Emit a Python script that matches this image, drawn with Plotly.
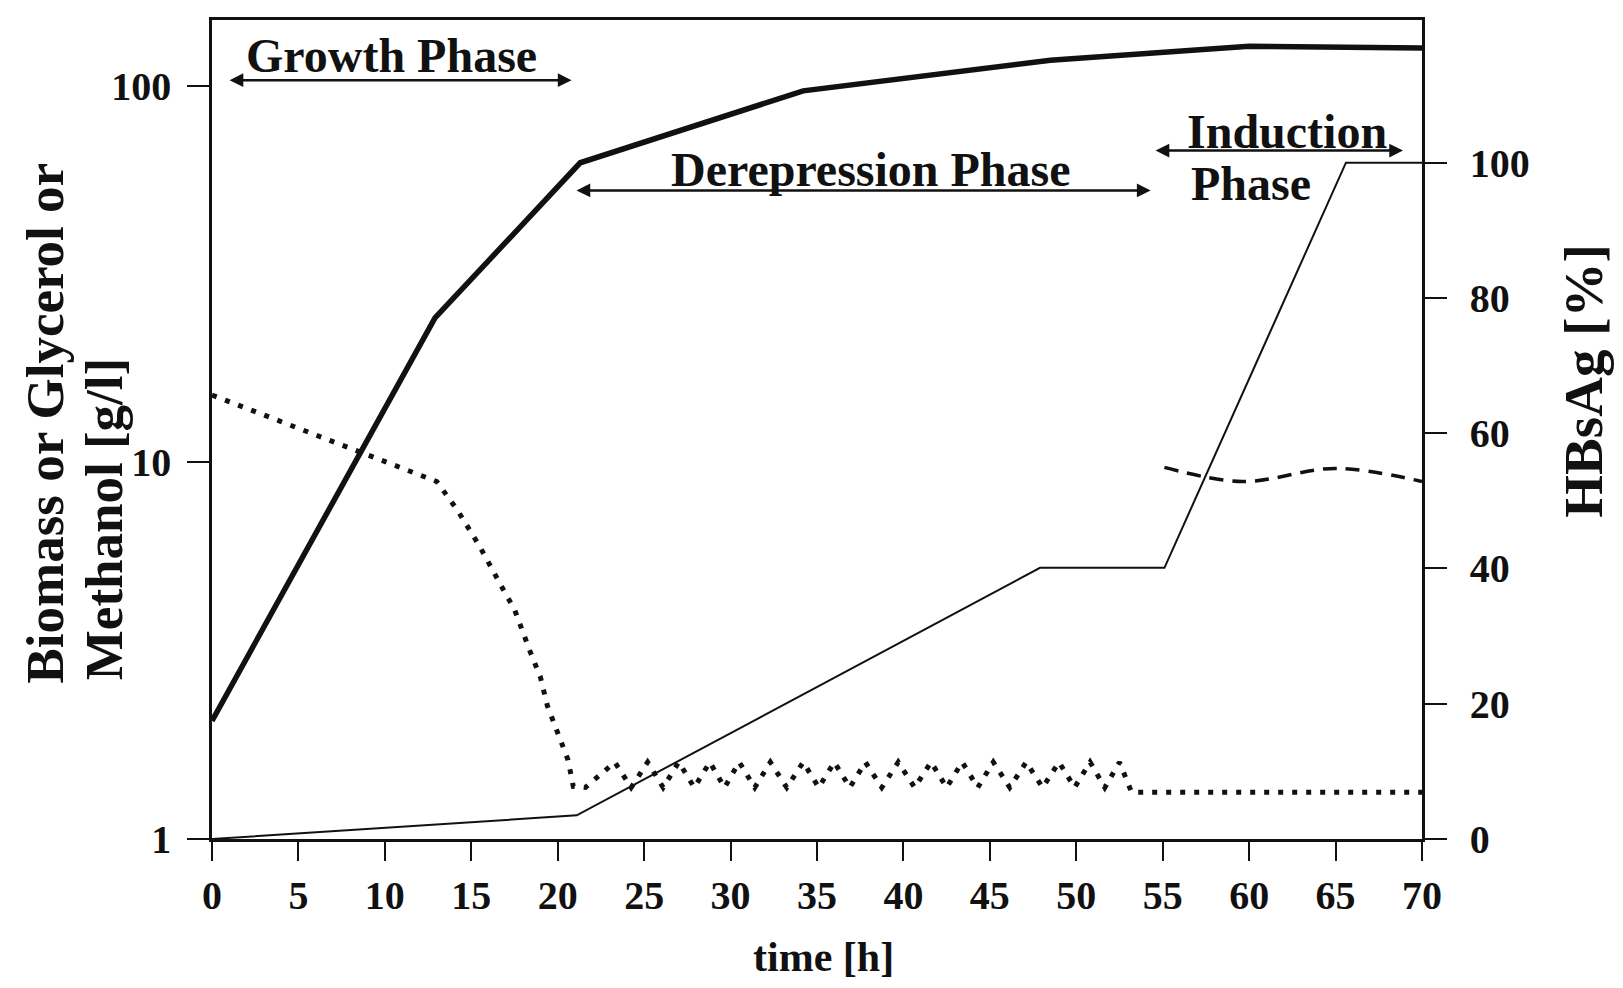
import plotly.graph_objects as go

# ---------------- data ----------------
time_biomass = [0, 12.9, 21.3, 34.2, 48.5, 60, 70]
biomass = [2.06, 24.2, 62.5, 97, 117, 127.5, 126]

time_glycerol = [0, 13.0, 14.2, 15.5, 16.7, 17.5, 18.4, 19.0, 19.4, 20.0, 20.6,
                 20.9, 21.6, 23.3, 24.25, 25.2, 26.1, 27.0, 27.9, 28.8, 29.65,
                 30.5, 31.4, 32.3, 33.25, 34.2, 35.1, 36.0, 36.9, 37.8, 38.75,
                 39.7, 40.65, 41.6, 42.5, 43.4, 44.3, 45.2, 46.15, 47.1, 48.05,
                 49.0, 49.9, 50.8, 51.65, 52.5, 53.2, 70]
glycerol = [15.1, 8.9, 7.47, 5.97, 4.73, 4.07, 3.15, 2.69, 2.26, 1.93, 1.62,
            1.38, 1.37, 1.6, 1.37, 1.6, 1.37, 1.6, 1.37, 1.6, 1.37,
            1.6, 1.37, 1.6, 1.37, 1.6, 1.37, 1.6, 1.37, 1.6, 1.37,
            1.6, 1.37, 1.6, 1.37, 1.6, 1.37, 1.6, 1.37, 1.6, 1.37,
            1.6, 1.37, 1.6, 1.37, 1.6, 1.33, 1.33]

time_methanol = [55.1, 59.6, 65.0, 70]
methanol = [9.7, 8.9, 9.64, 8.9]

time_hbsag = [0, 21.1, 47.9, 55.1, 65.6, 70]
hbsag = [0, 3.5, 40.1, 40.1, 100, 100]

x_ticks = [0, 5, 10, 15, 20, 25, 30, 35, 40, 45, 50, 55, 60, 65, 70]
left_ticks = [1, 10, 100]
right_ticks = [0, 20, 40, 60, 80, 100]

phase_names = ["Growth Phase", "Derepression Phase", "Induction", "Phase"]
phase_spans = [(0.93, 20.8), (21.0, 54.3), (54.5, 68.9)]

# ---------------- figure ----------------
SERIF = "Liberation Serif"
INK = "#111111"

fig = go.Figure()

fig.add_trace(go.Scatter(x=time_biomass, y=biomass, mode="lines",
                         line=dict(color=INK, width=5.5), yaxis="y",
                         showlegend=False))
fig.add_trace(go.Scatter(x=time_glycerol, y=glycerol, mode="lines",
                         line=dict(color=INK, width=5, dash="5px,9px"),
                         yaxis="y", showlegend=False))
fig.add_trace(go.Scatter(x=time_methanol, y=methanol, mode="lines",
                         line=dict(color=INK, width=3.5, dash="14px,9px",
                                   shape="spline"),
                         yaxis="y", showlegend=False))
fig.add_trace(go.Scatter(x=time_hbsag, y=hbsag, mode="lines",
                         line=dict(color=INK, width=2), yaxis="y2",
                         showlegend=False))

tick_font = dict(family=SERIF, size=40, color=INK, weight="bold")
ann_font = dict(family=SERIF, size=48, color=INK, weight="bold")
title_font = dict(family=SERIF, size=53, color=INK, weight="bold")

annotations = []
arrow_levels = [112.2, 95.9, 101.8]
for (t0, t1), lvl in zip(phase_spans, arrow_levels):
    annotations.append(dict(x=t1, y=lvl, ax=t0, ay=lvl, xref="x", yref="y2",
                            axref="x", ayref="y2", text="", showarrow=True,
                            arrowhead=2, startarrowhead=2, arrowside="end+start",
                            arrowsize=1.1, startarrowsize=1.1, arrowwidth=2.5,
                            arrowcolor=INK, standoff=0, startstandoff=0))
label_pos = [(10.4, 115.8), (38.1, 99.0), (62.2, 104.6), (60.1, 96.9)]
for name, (tx, ty) in zip(phase_names, label_pos):
    annotations.append(dict(x=tx, y=ty, xref="x", yref="y2", text=name,
                            showarrow=False, font=ann_font,
                            xanchor="center", yanchor="middle"))

# positions given in window pixels, converted to plot-area fractions
PL, PT, PR, PB = 212, 17, 1422, 839
def px_to_paper(xp, yp):
    return (xp - PL) / (PR - PL), (PB - yp) / (PB - PT)

lx1, ly1 = px_to_paper(45, 422)
lx2, ly2 = px_to_paper(104, 518)
rx, ry = px_to_paper(1584, 380)
bx, by = px_to_paper(823, 957)
annotations += [
    dict(x=lx1, y=ly1, xref="paper", yref="paper", text="Biomass or Glycerol or",
         showarrow=False, textangle=-90, font=title_font,
         xanchor="center", yanchor="middle"),
    dict(x=lx2, y=ly2, xref="paper", yref="paper", text="Methanol [g/l]",
         showarrow=False, textangle=-90, font=title_font,
         xanchor="center", yanchor="middle"),
    dict(x=rx, y=ry, xref="paper", yref="paper", text="HBsAg [%]",
         showarrow=False, textangle=-90, font=dict(title_font, size=55),
         xanchor="center", yanchor="middle"),
    dict(x=bx, y=by, xref="paper", yref="paper", text="time [h]",
         showarrow=False, font=dict(title_font, size=42),
         xanchor="center", yanchor="middle"),
]

# the page body adds an 8px offset, so the figure is 8px smaller on each side
W, H, OFF = 1607, 972, 8
fig.update_layout(
    width=W, height=H,
    margin=dict(l=PL - OFF, r=W - (PR - OFF), t=PT - OFF, b=H - (PB - OFF)),
    paper_bgcolor="white", plot_bgcolor="white",
    showlegend=False,
    xaxis=dict(range=[0, 70], tickvals=x_ticks, ticktext=[str(v) for v in x_ticks],
               showgrid=False, zeroline=False, showline=True, linecolor=INK,
               linewidth=3, mirror=True, ticks="outside", ticklen=19,
               tickwidth=2, tickcolor=INK, tickfont=tick_font,
               ticklabelstandoff=0),
    yaxis=dict(type="log", range=[0, 2.175], tickvals=left_ticks,
               ticktext=[str(v) for v in left_ticks], showgrid=False,
               zeroline=False, showline=True, linecolor=INK, linewidth=2.5,
               ticks="outside", ticklen=22, tickwidth=2, tickcolor=INK,
               tickfont=tick_font, ticklabelstandoff=8),
    yaxis2=dict(range=[0, 121.1], tickvals=right_ticks,
                ticktext=[str(v) for v in right_ticks], overlaying="y",
                side="right", showgrid=False, zeroline=False, showline=True,
                linecolor=INK, linewidth=2.5, ticks="outside", ticklen=22,
                tickwidth=2, tickcolor=INK, tickfont=tick_font,
                ticklabelstandoff=15),
    annotations=annotations,
)

fig.write_html("out.html")
